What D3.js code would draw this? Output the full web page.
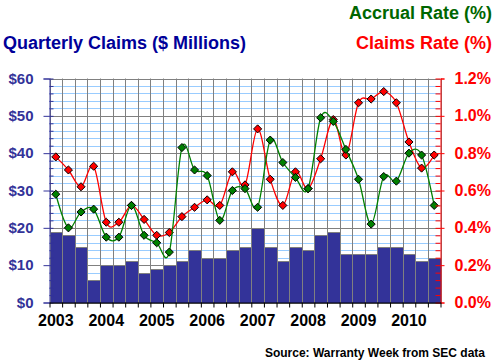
<!DOCTYPE html>
<html><head><meta charset="utf-8">
<script src="https://cdn.jsdelivr.net/npm/d3@7"></script>
<style>
html,body{margin:0;padding:0;background:#fff;}
text{font-family:"Liberation Sans",Arial,sans-serif;font-weight:bold;}
</style></head>
<body>
<svg id="c" width="496" height="364"></svg>
<script>
const years = ["2003","2004","2005","2006","2007","2008","2009","2010"];
const claims = [19,18,15,6,10,10,11,8,9,10,11,14,12,12,14,15,20,15,11,15,14,18,19,13,13,13,15,15,13,11,12];
const claimsRate = [0.78,0.71,0.62,0.73,0.43,0.43,0.52,0.445,0.36,0.375,0.46,0.51,0.55,0.52,0.70,0.63,0.93,0.66,0.52,0.70,0.61,0.77,0.98,0.79,1.07,1.09,1.13,1.07,0.86,0.72,0.79];
const accrualRate = [0.58,0.40,0.485,0.50,0.35,0.35,0.52,0.36,0.32,0.27,0.83,0.71,0.68,0.44,0.60,0.61,0.51,0.87,0.75,0.67,0.61,0.99,0.97,0.82,0.66,0.42,0.675,0.65,0.80,0.79,0.52];
const leftTicks = [0,10,20,30,40,50,60];
const rightTicks = [0,0.2,0.4,0.6,0.8,1.0,1.2];

const svg = d3.select("#c");
const L = 49.5, R = 440.5, T = 78.5, B = 302.5;
const idx = d3.range(claims.length);
const x = d3.scaleBand().domain(idx).range([L, R]).padding(0);
const yL = d3.scaleLinear().domain([0, 60]).range([B, T]);
const yR = d3.scaleLinear().domain([0, 1.2]).range([B, T]);

// minor gridlines (light blue)
const minor = d3.range(0, 61, 2).filter(v => v % 10 !== 0);
svg.append("g").selectAll("line").data(minor).join("line")
  .attr("x1", L).attr("x2", R).attr("y1", d => Math.round(yL(d)) + 0.5).attr("y2", d => Math.round(yL(d)) + 0.5)
  .attr("stroke", "#99ccff").attr("stroke-width", 1);
// major gridlines
svg.append("g").selectAll("line").data(leftTicks).join("line")
  .attr("x1", L).attr("x2", R).attr("y1", d => Math.round(yL(d)) + 0.5).attr("y2", d => Math.round(yL(d)) + 0.5)
  .attr("stroke", "#808080").attr("stroke-width", 1);
// vertical gridlines
const bounds = idx.map(i => x(i)).concat([R]);
svg.append("g").selectAll("line").data(bounds).join("line")
  .attr("x1", d => Math.round(d) + 0.5).attr("x2", d => Math.round(d) + 0.5).attr("y1", T).attr("y2", B)
  .attr("stroke", "#808080").attr("stroke-width", 1);

// bars
svg.append("g").selectAll("rect").data(claims).join("rect")
  .attr("x", (d, i) => Math.round(x(i)) + 0.5)
  .attr("width", (d, i) => Math.round(x(i) + x.bandwidth()) - Math.round(x(i)))
  .attr("y", d => Math.round(yL(d)) + 0.5)
  .attr("height", d => Math.round(B) - Math.round(yL(d)))
  .attr("fill", "#333399").attr("stroke", "#808080").attr("stroke-width", 1);

// lines
const cx = i => x(i) + x.bandwidth() / 2;
function series(data, color, fill) {
  const line = d3.line().x((d, i) => cx(i)).y(d => yR(d)).curve(d3.curveCardinal.tension(0));
  svg.append("path").datum(data).attr("d", line).attr("fill", "none")
    .attr("stroke", color).attr("stroke-width", 1.3);
  svg.append("g").selectAll("path").data(data).join("path")
    .attr("d", d3.symbol().type(d3.symbolDiamond2).size(42))
    .attr("transform", (d, i) => `translate(${cx(i)},${yR(d)})`)
    .attr("fill", fill).attr("stroke", "#000").attr("stroke-width", 1);
}
series(claimsRate, "#ff0000", "#ff0000");
series(accrualRate, "#008000", "#008000");

// left axis
const la = svg.append("g").attr("transform", `translate(${L},0)`);
la.call(d3.axisLeft(yL).tickValues(leftTicks).tickSize(6).tickPadding(10).tickFormat(d => "$" + d));
la.append("g").call(d3.axisRight(yL).tickValues(leftTicks).tickSize(4).tickFormat(""));
la.append("g").call(d3.axisRight(yL).tickValues(minor).tickSize(4).tickFormat(""));
la.selectAll("path.domain").attr("stroke", "#333399");
la.selectAll("line").attr("stroke", "#333399");
la.selectAll("text").attr("fill", "#333399").style("font-size", "15px").style("font-family", "'Liberation Sans',Arial,sans-serif").style("font-weight", "bold");
la.selectAll("path.domain").filter(function(){return this.parentNode !== la.node();}).remove();

// right axis
const ra = svg.append("g").attr("transform", `translate(${R},0)`);
const rminor = d3.range(0, 1.201, 0.04).filter((v, i) => i % 5 !== 0);
ra.call(d3.axisRight(yR).tickValues(rightTicks).tickSize(4).tickPadding(10).tickFormat(d => d.toFixed(1) + "%"));
ra.append("g").call(d3.axisLeft(yR).tickValues(rightTicks).tickSize(5).tickFormat(""));
ra.append("g").call(d3.axisLeft(yR).tickValues(rminor).tickSize(5).tickFormat(""));
ra.selectAll("path.domain").attr("stroke", "#ff0000");
ra.selectAll("line").attr("stroke", "#ff0000");
ra.selectAll("text").attr("fill", "#ff0000").style("font-size", "16px").style("font-family", "'Liberation Sans',Arial,sans-serif").style("font-weight", "bold");
ra.selectAll("path.domain").filter(function(){return this.parentNode !== ra.node();}).remove();

// bottom axis ticks at bar boundaries
const xb = d3.scaleLinear().domain([0, claims.length]).range([L, R]);
const ba = svg.append("g").attr("transform", `translate(0,${B})`);
ba.call(d3.axisBottom(xb).tickValues(d3.range(0, claims.length + 1)).tickSize(5).tickSizeOuter(0).tickFormat(""));
ba.selectAll("path.domain,line").attr("stroke", "#000");
// year labels at Q1 centers
svg.append("g").selectAll("text").data(years).join("text")
  .attr("x", (d, i) => cx(i * 4)).attr("y", 326)
  .attr("text-anchor", "middle").style("font-size", "16px").attr("fill", "#000")
  .text(d => d);

// titles
svg.append("text").attr("x", 3).attr("y", 49).style("font-size", "18px").attr("fill", "#000099")
  .text("Quarterly Claims ($ Millions)");
svg.append("text").attr("x", 492).attr("y", 19).attr("text-anchor", "end").style("font-size", "18px").attr("fill", "#006600")
  .text("Accrual Rate (%)");
svg.append("text").attr("x", 492).attr("y", 49).attr("text-anchor", "end").style("font-size", "18px").attr("fill", "#ff0000")
  .text("Claims Rate (%)");
svg.append("text").attr("x", 485).attr("y", 357).attr("text-anchor", "end").style("font-size", "12px").attr("fill", "#000")
  .text("Source: Warranty Week from SEC data");
</script>
</body></html>
